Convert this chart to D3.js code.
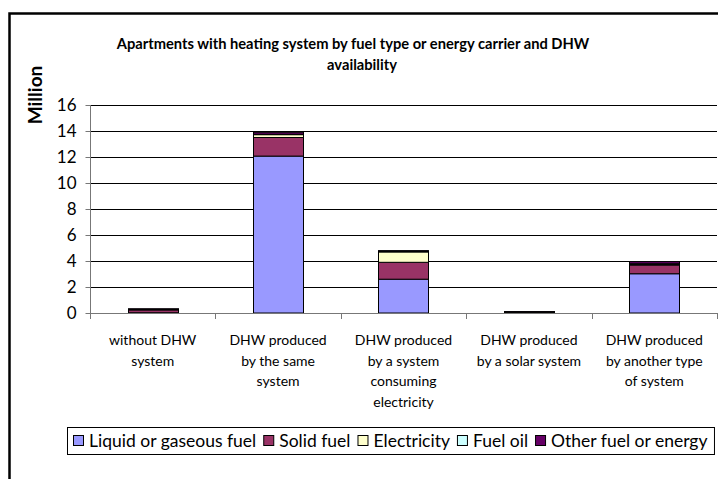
<!DOCTYPE html>
<html>
<head>
<meta charset="utf-8">
<script src="https://cdn.jsdelivr.net/npm/d3@7"></script>
<style>
  body { margin: 0; background: #fff; }
  svg { display: block; font-family: Lato, "Open Sans", sans-serif; }
</style>
</head>
<body>
<svg width="718" height="479"></svg>
<script>
const categories = [
  ["without DHW", "system"],
  ["DHW produced", "by the same", "system"],
  ["DHW produced", "by a system", "consuming", "electricity"],
  ["DHW produced", "by a solar system"],
  ["DHW produced", "by another type", "of system"]
];
const seriesNames = ["Liquid or gaseous fuel", "Solid fuel", "Electricity", "Fuel oil", "Other fuel or energy"];
const seriesColors = ["#9999ff", "#993366", "#ffffcc", "#ccffff", "#660066"];

const liquid = [0.02, 12.07, 2.6, 0.04, 3.02];
const solid = [0.22, 1.43, 1.3, 0.03, 0.67];
const electricity = [0.02, 0.22, 0.8, 0.01, 0.08];
const fuelOil = [0.01, 0.03, 0.02, 0.0, 0.02];
const other = [0.06, 0.15, 0.08, 0.03, 0.16];

const yTicks = [0, 2, 4, 6, 8, 10, 12, 14, 16];

const svg = d3.select("svg");

const plotLeft = 90;
const plotRight = 717;
const plotTop = 105;
const plotBottom = 313;

const rows = categories.map((c, i) => ({
  i: i,
  "Liquid or gaseous fuel": liquid[i],
  "Solid fuel": solid[i],
  "Electricity": electricity[i],
  "Fuel oil": fuelOil[i],
  "Other fuel or energy": other[i]
}));

const x = d3.scaleBand()
  .domain(d3.range(categories.length))
  .range([plotLeft, plotRight])
  .paddingInner(0.6)
  .paddingOuter(0.3);

const y = d3.scaleLinear().domain([0, 16]).range([plotBottom, plotTop]);

const color = d3.scaleOrdinal().domain(seriesNames).range(seriesColors);

// outer frame
svg.append("rect")
  .attr("x", 9.5)
  .attr("y", 13.5)
  .attr("width", 730)
  .attr("height", 490)
  .attr("fill", "none")
  .attr("stroke", "#000")
  .attr("stroke-width", 2.5);

// title
const title = svg.append("text")
  .attr("text-anchor", "middle")
  .attr("font-weight", "bold")
  .attr("font-size", 14.7)
  .attr("fill", "#000");
title.append("tspan").attr("x", 353).attr("y", 49)
  .text("Apartments with heating system by fuel type or energy carrier and DHW");
title.append("tspan").attr("x", 362).attr("y", 70).text("availability");

// gridlines
svg.append("g")
  .selectAll("line")
  .data(yTicks.filter(d => d > 0))
  .join("line")
  .attr("x1", plotLeft)
  .attr("x2", plotRight)
  .attr("y1", d => Math.round(y(d)) + 0.5)
  .attr("y2", d => Math.round(y(d)) + 0.5)
  .attr("stroke", "#000")
  .attr("stroke-width", 1);

// y axis
const yAxis = svg.append("g")
  .attr("transform", `translate(${plotLeft + 0.5},0)`)
  .call(d3.axisLeft(y).tickValues(yTicks).tickSize(5).tickPadding(9).tickFormat(d3.format("d")));
yAxis.select(".domain").attr("stroke", "#777").attr("d", `M0,${plotTop}V${plotBottom}`);
yAxis.selectAll(".tick line").attr("stroke", "#777");
yAxis.selectAll(".tick text")
  .attr("font-size", 17)
  .attr("font-family", "Lato, 'Open Sans', sans-serif")
  .attr("fill", "#000");

svg.append("text")
  .attr("transform", "translate(42, 95) rotate(-90)")
  .attr("text-anchor", "middle")
  .attr("font-weight", "bold")
  .attr("font-size", 19)
  .text("Million");

// stacked bars
const stack = d3.stack().keys(seriesNames)(rows);

svg.append("g")
  .selectAll("g")
  .data(stack)
  .join("g")
  .attr("fill", d => color(d.key))
  .selectAll("rect")
  .data(d => d)
  .join("rect")
  .attr("x", d => Math.round(x(d.data.i)) + 0.5)
  .attr("width", Math.round(x.bandwidth()))
  .attr("y", d => y(d[1]))
  .attr("height", d => Math.max(0, y(d[0]) - y(d[1])))
  .attr("stroke", "#000")
  .attr("stroke-width", 1);

// x axis
svg.append("line")
  .attr("x1", plotLeft)
  .attr("x2", plotRight)
  .attr("y1", plotBottom + 0.5)
  .attr("y2", plotBottom + 0.5)
  .attr("stroke", "#777");

const step = x.step();
svg.append("g")
  .selectAll("line")
  .data(d3.range(categories.length + 1))
  .join("line")
  .attr("x1", d => Math.round(plotLeft + d * step) + 0.5)
  .attr("x2", d => Math.round(plotLeft + d * step) + 0.5)
  .attr("y1", plotBottom)
  .attr("y2", plotBottom + 6)
  .attr("stroke", "#777");

const xLabels = svg.append("g")
  .selectAll("text")
  .data(categories)
  .join("text")
  .attr("text-anchor", "middle")
  .attr("font-size", 14)
  .attr("fill", "#000");
xLabels.each(function (lines, i) {
  const t = d3.select(this);
  lines.forEach((line, j) => {
    t.append("tspan")
      .attr("x", x(i) + x.bandwidth() / 2)
      .attr("y", 345 + j * 20.5)
      .text(line);
  });
});

// legend
const legend = svg.append("g");
const legendBox = legend.append("rect")
  .attr("x", 67.5)
  .attr("y", 427.5)
  .attr("height", 27)
  .attr("fill", "#fff")
  .attr("stroke", "#000");

let lx = 73;
seriesNames.forEach(name => {
  legend.append("rect")
    .attr("x", lx + 0.5)
    .attr("y", 435.5)
    .attr("width", 10)
    .attr("height", 10)
    .attr("fill", color(name))
    .attr("stroke", "#000");
  const t = legend.append("text")
    .attr("x", lx + 16)
    .attr("y", 447)
    .attr("font-size", 17.5)
    .attr("fill", "#000")
    .text(name);
  lx += 16 + t.node().getComputedTextLength() + 7;
});
legendBox.attr("width", lx - 67.5);
</script>
</body>
</html>
